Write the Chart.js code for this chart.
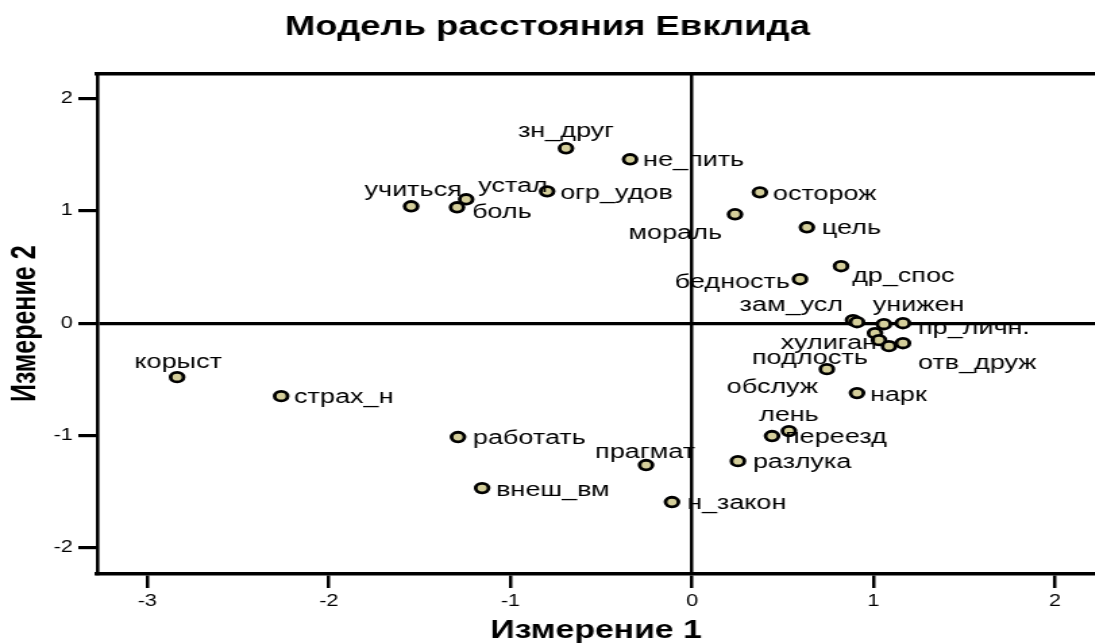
<!DOCTYPE html>
<html>
<head>
<meta charset="utf-8">
<script src="https://cdn.jsdelivr.net/npm/chart.js@4.4.1/dist/chart.umd.min.js"></script>
<style>
  html, body { margin: 0; padding: 0; background: #fff; overflow: hidden; }
  #wrap { width: 811px; height: 644px; transform: scaleX(1.35); transform-origin: 0 0; }
</style>
</head>
<body>
<div id="wrap"><canvas id="myChart"></canvas></div>
<script>
// the original picture is stretched sideways, so the chart is drawn narrow and scaled
const STRETCH = 1.35;

const names = ['зн_друг', 'не_пить', 'огр_удов', 'устал', 'боль', 'учиться', 'осторож', 'мораль',
  'цель', 'др_спос', 'бедность', 'зам_усл', '', 'унижен', 'пр_личн.', '', 'обслуж', 'хулиган',
  'отв_друж', 'подлость', 'нарк', 'лень', 'переезд', 'разлука', 'прагмат', 'н_закон', 'внеш_вм',
  'работать', 'страх_н', 'корыст'];
const dim1 = [-0.694, -0.341, -0.798, -1.244, -1.294, -1.547, 0.374, 0.237,
  0.633, 0.821, 0.595, 0.887, 0.909, 1.057, 1.162, 1.008, 1.030, 1.085,
  1.162, 0.743, 0.909, 0.534, 0.441, 0.253, -0.253, -0.110, -1.156,
  -1.289, -2.263, -2.836];
const dim2 = [1.556, 1.458, 1.173, 1.102, 1.031, 1.040, 1.164, 0.969,
  0.853, 0.507, 0.391, 0.027, 0.009, -0.009, 0.000, -0.089, -0.151, -0.204,
  -0.178, -0.409, -0.622, -0.960, -1.004, -1.227, -1.262, -1.591, -1.467,
  -1.013, -0.649, -0.480];
const xTicks = [-3, -2, -1, 0, 1, 2];
const yTicks = [-2, -1, 0, 1, 2];

// where each label sits next to its point: [align, dx, dy] in screen px
const labelPlace = {
  'зн_друг': ['c', 0, -17], 'не_пить': ['l', 13, 1], 'огр_удов': ['l', 13, 2],
  'устал': ['l', 12, -13], 'боль': ['l', 15, 5], 'учиться': ['c', 2, -16],
  'осторож': ['l', 13, 2], 'мораль': ['r', -13, 19], 'цель': ['l', 15, 1],
  'др_спос': ['l', 11, 10], 'бедность': ['r', -10, 3], 'зам_усл': ['r', -10, -15],
  'унижен': ['l', -11, -19], 'пр_личн.': ['l', 15, 5], 'обслуж': ['r', -61, 47],
  'хулиган': ['r', -12, -3], 'отв_друж': ['l', 15, 20], 'подлость': ['c', -17, -11],
  'нарк': ['l', 13, 2], 'лень': ['c', 0, -16], 'переезд': ['l', 13, 1],
  'разлука': ['l', 15, 1], 'прагмат': ['c', -1, -13], 'н_закон': ['l', 15, 1],
  'внеш_вм': ['l', 14, 2], 'работать': ['l', 15, 1], 'страх_н': ['l', 13, 1],
  'корыст': ['c', 1, -15]
};

const points = dim1.map(function (v, i) { return { x: v, y: dim2[i] }; });

const labelPlugin = {
  id: 'pointNames',
  afterDatasetsDraw(chart) {
    const ctx = chart.ctx;
    const meta = chart.getDatasetMeta(0);
    ctx.save();
    ctx.font = '20px "Liberation Sans", Arial, sans-serif';
    ctx.fillStyle = '#000';
    ctx.textBaseline = 'middle';
    meta.data.forEach(function (pt, i) {
      const name = names[i];
      if (!name) return;
      const p = labelPlace[name] || ['l', 13, 1];
      ctx.textAlign = { l: 'left', c: 'center', r: 'right' }[p[0]];
      ctx.fillText(name, pt.x + p[1] / STRETCH, pt.y + p[2]);
    });
    ctx.restore();
  }
};

const xMin = -3.276, xMax = 2.219, yMin = -2.231, yMax = 2.222;
const font = '"Liberation Sans", Arial, sans-serif';

new Chart(document.getElementById('myChart'), {
  type: 'scatter',
  data: {
    datasets: [{
      data: points,
      backgroundColor: '#d4ce9a',
      borderColor: '#000',
      borderWidth: 2.8,
      pointRadius: 4.8,
      pointHoverRadius: 4.8
    }]
  },
  plugins: [labelPlugin],
  options: {
    responsive: true,
    maintainAspectRatio: false,
    animation: false,
    layout: { padding: 0, autoPadding: false },
    plugins: {
      legend: { display: false },
      tooltip: { enabled: false },
      title: {
        display: true,
        text: 'Модель расстояния Евклида',
        color: '#000',
        font: { family: font, size: 27, weight: 'bold', lineHeight: 1.2 },
        padding: { top: 11, bottom: 30 }
      }
    },
    scales: {
      x: {
        type: 'linear', position: 'bottom', min: xMin, max: xMax,
        afterBuildTicks: function (s) { s.ticks = xTicks.map(function (v) { return { value: v }; }); },
        afterFit: function (s) { s.height = 70; },
        ticks: { color: '#000', font: { family: font, size: 16 }, padding: 4, maxRotation: 0 },
        grid: {
          color: function (c) { return c.tick && c.tick.value === 0 ? '#000' : 'rgba(0,0,0,0)'; },
          lineWidth: 2.5, tickColor: '#000', tickWidth: 2.5, tickLength: 14
        },
        border: { color: '#000', width: 3.5 },
        title: {
          display: true, text: 'Измерение 1', color: '#000',
          font: { family: font, size: 25, weight: 'bold', lineHeight: 1 },
          padding: { top: 0, bottom: 0 }
        }
      },
      x2: {
        type: 'linear', position: 'top', min: xMin, max: xMax,
        afterFit: function (s) { s.height = 0; },
        ticks: { display: false },
        grid: { display: true, drawOnChartArea: false, drawTicks: false },
        border: { display: true, color: '#000', width: 3.5 }
      },
      y: {
        type: 'linear', position: 'left', min: yMin, max: yMax,
        afterBuildTicks: function (s) { s.ticks = yTicks.map(function (v) { return { value: v }; }); },
        afterFit: function (s) { s.width = 72; },
        ticks: { color: '#000', font: { family: font, size: 16 }, padding: 4 },
        grid: {
          color: function (c) { return c.tick && c.tick.value === 0 ? '#000' : 'rgba(0,0,0,0)'; },
          lineWidth: 3.2, tickColor: '#000', tickWidth: 3.2, tickLength: 14
        },
        border: { color: '#000', width: 2.6 },
        title: {
          display: true, text: 'Измерение 2', color: '#000',
          font: { family: font, size: 25, weight: 'bold', lineHeight: 1 },
          padding: { top: 7, bottom: 0 }
        }
      }
    }
  }
});
</script>
</body>
</html>
